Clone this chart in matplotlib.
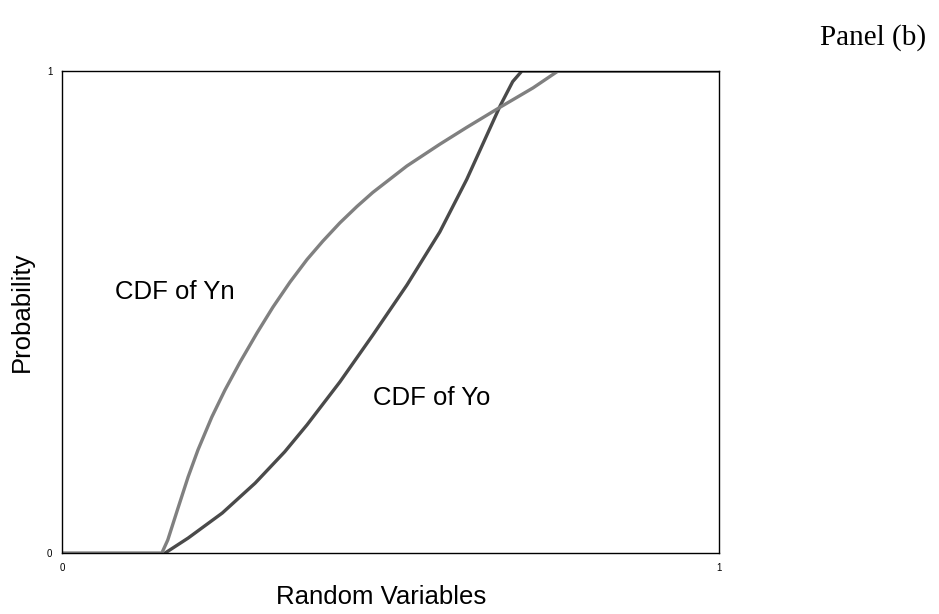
import numpy as np
import matplotlib.pyplot as plt

# CDF curves
yn_x = [0.0, 0.152, 0.161, 0.177, 0.192, 0.207, 0.228, 0.248, 0.271, 0.297, 0.321,
        0.347, 0.373, 0.397, 0.423, 0.449, 0.473, 0.525, 0.575, 0.616, 0.667,
        0.717, 0.755, 1.0]
yn_p = [0.0, 0.0, 0.027, 0.095, 0.158, 0.214, 0.282, 0.338, 0.396, 0.457, 0.510,
        0.562, 0.609, 0.647, 0.685, 0.719, 0.748, 0.803, 0.848, 0.883, 0.925,
        0.965, 1.0, 1.0]

yo_x = [0.157, 0.192, 0.244, 0.294, 0.339, 0.373, 0.423, 0.473, 0.525, 0.575,
        0.616, 0.641, 0.667, 0.686, 0.700, 1.0]
yo_p = [0.0, 0.031, 0.083, 0.145, 0.210, 0.266, 0.355, 0.452, 0.556, 0.666,
        0.775, 0.850, 0.928, 0.978, 1.0, 1.0]

xticks = [0, 1]
yticks = [0, 1]

fig = plt.figure(figsize=(9.39, 6.14), dpi=100)
ax = fig.add_axes([62/939, 1 - 553/614, 657/939, 482/614])

ax.plot(yo_x, yo_p, color='#4a4a4a', linewidth=2.4, solid_capstyle='round',
        solid_joinstyle='round')
ax.plot(yn_x, yn_p, color='#808080', linewidth=2.4, solid_capstyle='round',
        solid_joinstyle='round')

ax.set_xlim(0, 1)
ax.set_ylim(0, 1)
ax.set_xticks(xticks)
ax.set_yticks(yticks)
ax.tick_params(length=0, labelsize=7, pad=7)
for lab in ax.get_xticklabels() + ax.get_yticklabels():
    lab.set_family('Liberation Sans')
for s in ax.spines.values():
    s.set_linewidth(1.0)
    s.set_color('black')

ax.set_xlabel('Random Variables', family='Liberation Sans', fontsize=18.5, va='center')
ax.xaxis.set_label_coords((381 - 62) / 657, -0.091)
ax.set_ylabel('Probability', family='Liberation Sans', fontsize=18.5, va='center')
ax.yaxis.set_label_coords(-0.061, 0.5)

ax.text(0.081, 0.541, 'CDF of Yn', transform=ax.transAxes, family='Liberation Sans',
        fontsize=18.5, va='center', ha='left')
ax.text(0.473, 0.322, 'CDF of Yo', transform=ax.transAxes, family='Liberation Sans',
        fontsize=18.5, va='center', ha='left')

fig.text(873/939, 1 - 38/614, 'Panel (b)', family='Liberation Serif', fontsize=21,
         ha='center', va='center')

fig.savefig('out.png', dpi=100)
